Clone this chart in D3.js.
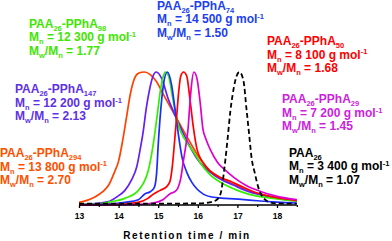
<!DOCTYPE html>
<html><head><meta charset="utf-8">
<script src="https://cdn.jsdelivr.net/npm/d3@7"></script>
<style>body{margin:0;background:#fff}svg{display:block}text{font-family:"Liberation Sans",Arial,sans-serif;font-weight:bold}</style>
</head><body><svg id="c" width="392" height="241"></svg>
<script>
// ---- data ----
const xTicks = [13, 14, 15, 16, 17, 18];
const xMinorTicks = [13.5, 14.5, 15.5, 16.5, 17.5, 18.5];
const xTitle = "Retention time / min";

const seriesNames = ["PPhA294", "PPhA147", "PPhA98", "PPhA74", "PPhA50", "PPhA29", "PAA26"];
const orange = [[13.0,.02],[13.2,.035],[13.4,.06],[13.6,.1],[13.75,.15],[13.9,.25],[14.0,.33],[14.1,.48],[14.2,.66],[14.3,.84],[14.4,.95],[14.5,.99],[14.65,1.0],[14.8,.98],[14.95,.93],[15.15,.82],[15.45,.66],[15.75,.5],[16.05,.35],[16.3,.26],[16.6,.2],[16.9,.155],[17.2,.115],[17.6,.08],[18.0,.055],[18.5,.035]];
const purple = [[13.0,.005],[13.4,.01],[13.74,.025],[13.95,.06],[14.16,.11],[14.33,.19],[14.46,.29],[14.54,.41],[14.62,.55],[14.7,.73],[14.79,.88],[14.87,.97],[14.95,1.0],[15.09,.95],[15.25,.8],[15.42,.68],[15.63,.54],[15.8,.44],[16.0,.34],[16.3,.25],[16.6,.19],[16.9,.15],[17.2,.11],[17.6,.075],[18.0,.05],[18.5,.03]];
const green = [[13.0,.003],[13.5,.008],[13.82,.025],[14.16,.05],[14.5,.11],[14.62,.16],[14.75,.26],[14.85,.41],[14.92,.55],[14.99,.71],[15.05,.85],[15.12,.96],[15.18,1.0],[15.26,.97],[15.38,.78],[15.51,.6],[15.7,.48],[15.89,.4],[16.1,.3],[16.3,.23],[16.7,.15],[17.0,.11],[17.3,.08],[17.9,.05],[18.5,.03]];
const blue = [[13.0,.002],[13.5,.004],[14.16,.02],[14.5,.04],[14.67,.085],[14.8,.1],[14.9,.13],[14.96,.24],[15.0,.45],[15.06,.7],[15.13,.9],[15.23,1.0],[15.34,.9],[15.42,.73],[15.51,.53],[15.6,.36],[15.73,.24],[15.85,.17],[15.98,.12],[16.15,.08],[16.35,.06],[16.7,.05],[17.1,.042],[17.5,.032],[18.0,.022],[18.5,.015]];
const red = [[13.0,.001],[14.0,.005],[14.49,.02],[14.74,.05],[14.87,.08],[15.05,.11],[15.22,.14],[15.3,.18],[15.36,.3],[15.42,.5],[15.47,.68],[15.52,.86],[15.57,.97],[15.64,1.0],[15.72,.97],[15.8,.8],[15.89,.58],[15.98,.42],[16.18,.3],[16.48,.22],[16.81,.18],[17.1,.14],[17.5,.09],[18.0,.055],[18.5,.035]];
const magenta = [[13.0,.0],[14.5,.005],[14.87,.015],[15.12,.04],[15.3,.085],[15.42,.1],[15.5,.13],[15.57,.2],[15.63,.32],[15.7,.45],[15.75,.56],[15.8,.76],[15.84,.9],[15.9,1.0],[15.98,.95],[16.06,.77],[16.13,.57],[16.2,.5],[16.31,.42],[16.5,.32],[16.7,.26],[16.9,.21],[17.2,.15],[17.6,.1],[18.0,.065],[18.5,.04]];
const black = [[13.0,.01],[14.0,.01],[15.0,.01],[16.0,.012],[16.3,.02],[16.48,.04],[16.58,.09],[16.64,.2],[16.7,.35],[16.76,.52],[16.82,.7],[16.88,.83],[16.95,.94],[17.05,1.0],[17.15,.94],[17.23,.72],[17.3,.52],[17.36,.35],[17.44,.24],[17.52,.14],[17.6,.08],[17.7,.04],[17.82,.02],[18.0,.012],[18.5,.01]];

const labelNames = [["PAA","26","-PPhA","98"],["PAA","26","-PPhA","74"],["PAA","26","-PPhA","50"],["PAA","26","-PPhA","147"],["PAA","26","-PPhA","29"],["PAA","26","-PPhA","294"],["PAA","26"]];
const labelMn = ["12 300","14 500","8 100","12 200","7 200","13 800","3 400"];
const labelD = ["1.77","1.50","1.68","2.13","1.45","2.70","1.07"];

// ---- styling / layout ----
const curves = [
  {d: orange, c: "#ff4200"},
  {d: purple, c: "#6420f5"},
  {d: green, c: "#33ee00"},
  {d: blue, c: "#1a2cff"},
  {d: red, c: "#ff0000"},
  {d: magenta, c: "#dd00cc"},
  {d: black, c: "#000", dash: "5,3"}
];
const labelLayout = [
  {x: 29, y: 27.5, c: "#3fe600"},
  {x: 157, y: 9.8, c: "#2040f0"},
  {x: 267, y: 45, c: "#ff0000"},
  {x: 15, y: 93.3, c: "#6030e8"},
  {x: 282, y: 103.3, c: "#cc22dd"},
  {x: 0, y: 157, c: "#ff5000"},
  {x: 289, y: 156.7, c: "#000"}
];

const svg = d3.select("#c");
const x = d3.scaleLinear().domain([13, 18.5]).range([79, 296.8]);
const y = d3.scaleLinear().domain([0, 1]).range([205, 72]);

const line = d3.line().x(d => x(d[0])).y(d => y(d[1])).curve(d3.curveMonotoneX);
curves.forEach(s => {
  svg.append("path").attr("d", line(s.d)).attr("fill", "none")
    .attr("stroke", s.c).attr("stroke-width", s.dash ? 1.8 : 1.7)
    .attr("stroke-dasharray", s.dash || null);
});

// axis
const ax = svg.append("g").attr("transform", "translate(0,205)");
ax.call(d3.axisBottom(x).tickValues(xTicks).tickSize(3).tickPadding(5).tickFormat(d3.format("d")));
ax.select(".domain").attr("stroke-width", 1.6).attr("d", `M${x(13)},0H${x(18.5)}`);
ax.selectAll(".tick line").attr("stroke-width", 1.3);
ax.selectAll(".tick text").style("font-size", "8.5px").style("font-family", "Liberation Sans, Arial").style("font-weight", "bold");
const ax2 = svg.append("g").attr("transform", "translate(0,205)");
ax2.call(d3.axisBottom(x).tickValues(xMinorTicks).tickSize(2).tickFormat(""));
ax2.select(".domain").remove();
ax2.selectAll(".tick line").attr("stroke-width", 1.2);

svg.append("text").attr("x", 187).attr("y", 239).attr("text-anchor", "middle")
  .style("font-size", "10px").style("letter-spacing", "1.6px").text(xTitle);

// labels
const fs = 12, lh = 13.6;
function rich(g, parts, yy) {
  const t = g.append("text").attr("x", 0).attr("y", yy).style("font-size", fs + "px");
  let shift = 0;
  parts.forEach(p => {
    const [txt, kind] = p;
    const target = kind === "sub" ? 3 : kind === "sup" ? -4.3 : 0;
    t.append("tspan").attr("dy", target - shift)
      .style("font-size", kind ? "7.5px" : fs + "px").text(txt);
    shift = target;
  });
}
labelNames.forEach((nm, i) => {
  const L = labelLayout[i];
  const g = svg.append("g").attr("transform", `translate(${L.x},${L.y})`).attr("fill", L.c);
  const p1 = nm.map((s, k) => [s, k % 2 ? "sub" : null]);
  rich(g, p1, 0);
  rich(g, [["M"],["n","sub"],[" = " + labelMn[i] + " g mol"],["-1","sup"]], lh);
  rich(g, [["M"],["w","sub"],["/M"],["n","sub"],[" = " + labelD[i]]], 2 * lh);
});
</script></body></html>
